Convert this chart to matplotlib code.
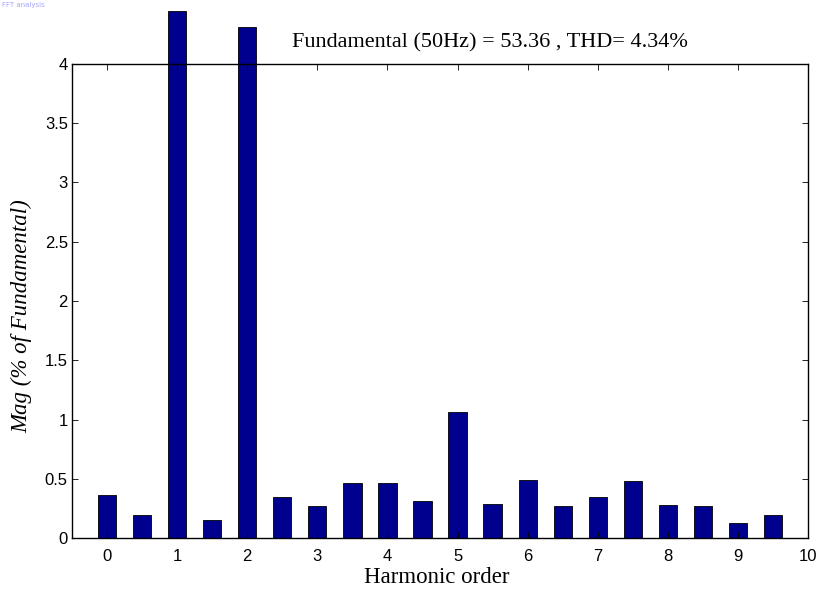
import matplotlib
matplotlib.use('Agg')
import matplotlib.pyplot as plt
import numpy as np

# Ordenes armonicos (pasos de 0.5) y magnitudes en % de la fundamental
orden = [0, 0.5, 1, 1.5, 2, 2.5, 3, 3.5, 4, 4.5,
         5, 5.5, 6, 6.5, 7, 7.5, 8, 8.5, 9, 9.5]
magnitud = [0.36, 0.19, 4.45, 0.15, 4.31, 0.35, 0.27, 0.46, 0.46, 0.31,
            1.06, 0.29, 0.49, 0.27, 0.35, 0.48, 0.28, 0.27, 0.13, 0.19]
xticks = list(range(0, 11))
yticks = [0, 0.5, 1, 1.5, 2, 2.5, 3, 3.5, 4]
titulo = 'Fundamental (50Hz) = 53.36 , THD= 4.34%'

fig = plt.figure(figsize=(8.2, 5.92), dpi=100)
ax = fig.add_axes([0.0878, 0.0912, 0.8976, 0.8007])

bars = ax.bar(orden, magnitud, width=0.26, color='#00008F',
              edgecolor='black', linewidth=0.6)
# en MATLAB las barras se salen del eje
for b in bars:
    b.set_clip_on(False)

ax.set_xlim(-0.5, 10)
ax.set_ylim(0, 4)
ax.set_xticks(xticks)
ax.set_xticklabels([str(t) for t in xticks])
ax.set_yticks(yticks)
ax.set_yticklabels(['0', '0.5', '1', '1.5', '2', '2.5', '3', '3.5', '4'])

ax.tick_params(direction='in', length=4, width=0.6, top=True, right=True,
               labelsize=12)
ax.tick_params(axis='x', pad=8)
ax.tick_params(axis='y', pad=3)
for lbl in ax.get_xticklabels() + ax.get_yticklabels():
    lbl.set_family('Liberation Sans')
for s in ax.spines.values():
    s.set_linewidth(1.0)

ax.set_xlabel('Harmonic order', family='Liberation Serif', fontsize=16.5)
ax.xaxis.label.set_va('center')
ax.xaxis.set_label_coords(0.496, -0.084)
ax.set_ylabel('Mag (% of Fundamental)', family='Liberation Serif',
              style='italic', fontsize=16.5)
ax.yaxis.label.set_va('center')
ax.yaxis.set_label_coords(-0.068, 0.468)

fig.text(292 / 820, 1 - 43 / 592, titulo, family='Liberation Serif',
         fontsize=16, ha='left', va='center')

# texto de la ventana original, casi cortado
fig.text(0.002, 0.997, 'FFT analysis', color='#6666ff', fontsize=5,
         ha='left', va='top', alpha=0.6)

fig.savefig('out.png', dpi=100)
